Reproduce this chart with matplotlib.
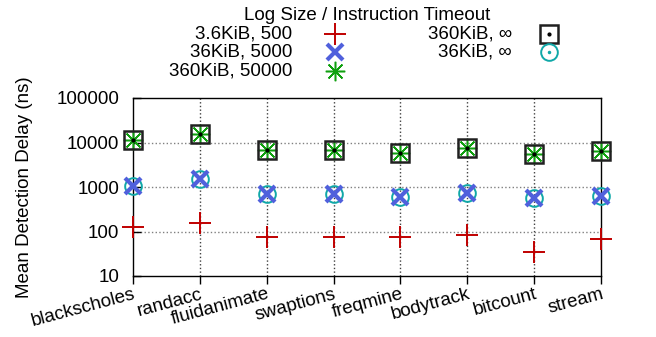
import matplotlib
matplotlib.use('Agg')
import matplotlib.pyplot as plt
import numpy as np

plt.rcParams['font.family'] = ['Liberation Sans', 'DejaVu Sans']
plt.rcParams['font.size'] = 13.5

benchmarks = ['blackscholes', 'randacc', 'fluidanimate', 'swaptions',
              'freqmine', 'bodytrack', 'bitcount', 'stream']

# mean detection delay (ns) per log size / instruction timeout
delay_3k6_500 = [127, 157, 74, 76, 74, 83, 34, 68]
delay_36k_5000 = [1040, 1550, 680, 680, 600, 750, 570, 620]
delay_360k_50000 = [11600, 15800, 6900, 6700, 5900, 7700, 5500, 6350]
delay_360k_inf = [11600, 15800, 6900, 6700, 5900, 7700, 5500, 6350]
delay_36k_inf = [1040, 1550, 680, 680, 600, 750, 570, 620]

labels = ['3.6KiB, 500', '36KiB, 5000', '360KiB, 50000',
          '360KiB, \u221e', '36KiB, \u221e']

red = '#c00000'
blue = '#5060dc'
green = '#10a010'
teal = '#10a8a8'

W, H = 656, 337
fig = plt.figure(figsize=(W / 100, H / 100), dpi=100)
ax = fig.add_axes([133 / W, 1 - 276 / H, (601 - 133) / W, (276 - 98) / H])

x = np.arange(len(benchmarks))

styles = [
  dict(marker='+', ms=16, mew=1.4, color=red),
  dict(marker='x', ms=12, mew=3.0, color=blue),
  dict(marker=(8, 2, 0), ms=14, mew=1.1, color=green),
  dict(marker='s', ms=13, mew=1.8, mfc='none', color='#202020'),
  dict(marker='o', ms=12, mew=1.4, mfc='none', color=teal),
]
series = [delay_3k6_500, delay_36k_5000, delay_360k_50000,
          delay_360k_inf, delay_36k_inf]
zorders = [5, 6, 4, 5, 5]

for s, st, z in zip(series, styles, zorders):
  ax.plot(x, s, ls='none', clip_on=False, zorder=z, **st)
# centre dots of the square and circle points
ax.plot(x, delay_360k_inf, ls='none', marker='o', ms=2, color='black',
        clip_on=False, zorder=6)
ax.plot(x, delay_36k_inf, ls='none', marker='o', ms=1.5, color=teal,
        clip_on=False, zorder=5)

ax.set_yscale('log')
ax.set_ylim(10, 100000)
ax.set_xlim(0, len(benchmarks) - 1)
ax.set_yticks([10, 100, 1000, 10000, 100000])
ax.set_yticklabels(['10', '100', '1000', '10000', '100000'])
ax.tick_params(axis='y', which='major', direction='in', length=6,
               width=1, pad=10)
ax.tick_params(axis='y', which='minor', direction='in', length=3, width=0.8)
ax.set_xticks(x)
ax.set_xticklabels(benchmarks, rotation=15, ha='right',
                   rotation_mode='anchor')
ax.tick_params(axis='x', direction='out', length=6, width=1, pad=1)

for yv in [100, 1000, 10000]:
  ax.axhline(yv, color='#808080', ls=':', lw=1, zorder=1)
for xv in x[1:-1]:
  ax.axvline(xv, color='#404040', ls=':', lw=1, zorder=1)

for sp in ax.spines.values():
  sp.set_linewidth(1.0)

ax.set_ylabel('Mean Detection Delay (ns)')
ax.yaxis.set_label_coords((33 - 133) / 468, 0.5)

# key drawn in pixel coordinates above the plot
key = fig.add_axes([0, 0, 1, 1], facecolor='none')
key.set_xlim(0, W)
key.set_ylim(H, 0)
key.axis('off')
key.text(367, 15, 'Log Size / Instruction Timeout', ha='center',
         va='center')
key_pos = [(292, 335, 34), (292, 335, 52), (292, 335, 71),
           (512, 549, 34), (512, 549, 52)]
for lab, st, (tx, mx, ky) in zip(labels, styles, key_pos):
  key.text(tx, ky, lab, ha='right', va='center')
  key.plot([mx], [ky], ls='none', **st)
key.plot([549], [34], ls='none', marker='o', ms=2, color='black')
key.plot([549], [52], ls='none', marker='o', ms=1.5, color=teal)

fig.savefig('out.png', dpi=100)
